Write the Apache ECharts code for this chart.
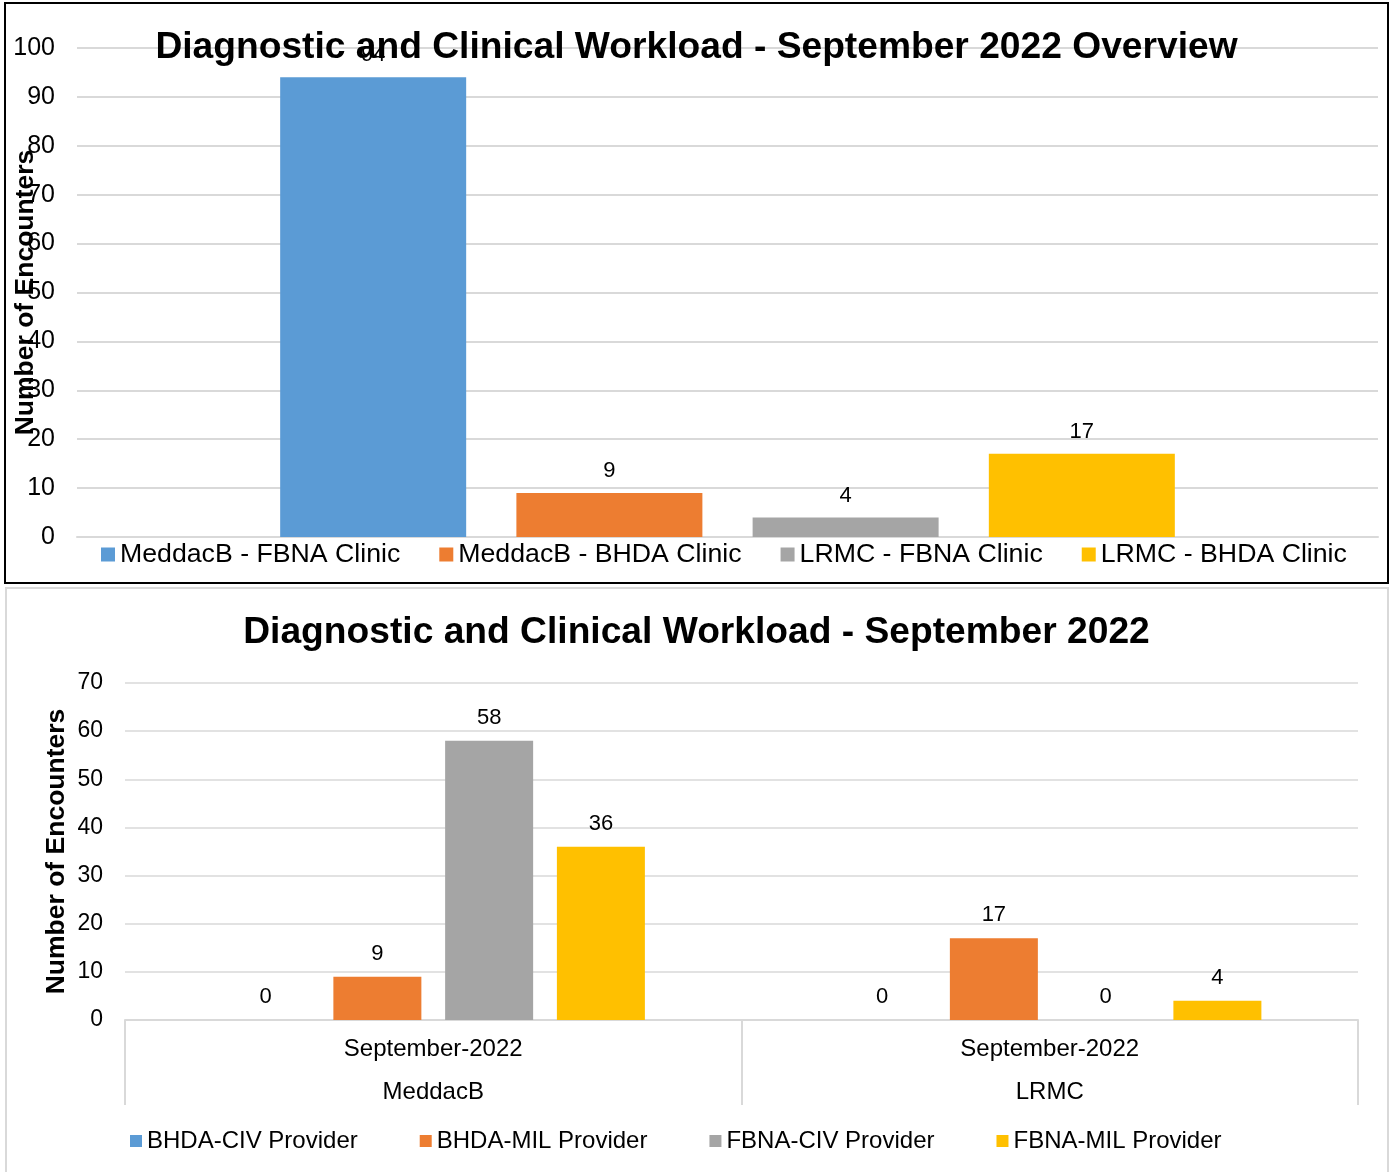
<!DOCTYPE html>
<html>
<head>
<meta charset="utf-8">
<script src="https://cdn.jsdelivr.net/npm/echarts@6/dist/echarts.min.js"></script>
<style>
html,body{margin:0;padding:0;background:#fff;}
#c{width:1393px;height:1172px;}
</style>
</head>
<body>
<div id="c"></div>
<script>
// ---- Data ----
var topTitle = 'Diagnostic and Clinical Workload - September 2022 Overview';
var topSeriesNames = ['MeddacB - FBNA Clinic', 'MeddacB - BHDA Clinic', 'LRMC - FBNA Clinic', 'LRMC - BHDA Clinic'];
var topValues = [94, 9, 4, 17];
var topCategory = ['September 2022'];

var bottomTitle = 'Diagnostic and Clinical Workload - September 2022';
var bottomSites = ['MeddacB', 'LRMC'];
var bottomMonths = ['September-2022', 'September-2022'];
var bottomSeriesNames = ['BHDA-CIV Provider', 'BHDA-MIL Provider', 'FBNA-CIV Provider', 'FBNA-MIL Provider'];
var bhdaCiv = [0, 0];
var bhdaMil = [9, 17];
var fbnaCiv = [58, 0];
var fbnaMil = [36, 4];

var yTitle = 'Number of Encounters';
var colors = ['#5B9BD5', '#ED7D31', '#A5A5A5', '#FFC000'];
var FONT = "'Liberation Sans', Arial, sans-serif";

var chart = echarts.init(document.getElementById('c'), null, {renderer: 'canvas'});

var series = [];
topSeriesNames.forEach(function (name, i) {
  series.push({
    name: name, type: 'bar', xAxisIndex: 0, yAxisIndex: 0,
    data: [topValues[i]],
    barWidth: 186, barGap: '27%',
    itemStyle: {color: colors[i]},
    label: {show: true, position: 'top', distance: 11, color: '#000', fontSize: 22, fontFamily: FONT},
    z: 3
  });
});
var bottomData = [bhdaCiv, bhdaMil, fbnaCiv, fbnaMil];
bottomSeriesNames.forEach(function (name, i) {
  series.push({
    name: name, type: 'bar', xAxisIndex: 1, yAxisIndex: 1,
    data: bottomData[i],
    barWidth: 88, barGap: '27%',
    itemStyle: {color: colors[i]},
    label: {show: true, position: 'top', distance: 12, color: '#000', fontSize: 22, fontFamily: FONT}
  });
});

var option = {
  animation: false,
  backgroundColor: '#fff',
  textStyle: {fontFamily: FONT},
  graphic: [
    {type: 'rect', shape: {x: 5, y: 3, width: 1383, height: 580}, style: {fill: 'none', stroke: '#000', lineWidth: 2}, z: 100},
    {type: 'rect', shape: {x: 6, y: 588, width: 1382, height: 620}, style: {fill: 'none', stroke: '#d9d9d9', lineWidth: 2}, z: 100}
  ],
  title: [
    {text: topTitle, left: 'center', top: 24, textStyle: {fontSize: 37.2, fontWeight: 'bold', color: '#000', fontFamily: FONT}},
    {text: bottomTitle, left: 'center', top: 609, textStyle: {fontSize: 37.2, fontWeight: 'bold', color: '#000', fontFamily: FONT}}
  ],
  legend: [
    {data: topSeriesNames, left: 101, top: 541, padding: 0, icon: 'rect', itemWidth: 14, itemHeight: 14, itemGap: 39,
     textStyle: {fontSize: 26.7, color: '#000', fontFamily: FONT}},
    {data: bottomSeriesNames, left: 130, top: 1129, padding: 0, icon: 'rect', itemWidth: 12, itemHeight: 12, itemGap: 62,
     textStyle: {fontSize: 24, color: '#000', fontFamily: FONT}}
  ],
  grid: [
    {left: 77, right: 15, top: 48, height: 489, containLabel: false, outerBoundsMode: 'none'},
    {left: 125, right: 35, top: 683, height: 337, containLabel: false, outerBoundsMode: 'none'}
  ],
  xAxis: [
    {type: 'category', gridIndex: 0, data: topCategory,
     axisLine: {show: true, lineStyle: {color: '#d9d9d9', width: 2}},
     axisTick: {show: false}, axisLabel: {show: false}},
    {type: 'category', gridIndex: 1, data: bottomSites,
     axisLine: {show: true, lineStyle: {color: '#d9d9d9', width: 2}},
     axisTick: {show: true, length: 85, interval: 0, lineStyle: {color: '#d9d9d9', width: 2}},
     axisLabel: {show: true, interval: 0, margin: 8, fontSize: 24, color: '#000', fontFamily: FONT, lineHeight: 43,
       formatter: function (v, idx) { return bottomMonths[idx] + '\n' + v; }}}
  ],
  yAxis: [
    {type: 'value', gridIndex: 0, min: 0, max: 100, interval: 10,
     name: yTitle, nameLocation: 'middle', nameGap: 38, nameRotate: 90, nameMoveOverlap: false,
     nameTextStyle: {fontSize: 26.5, fontWeight: 'bold', color: '#000', fontFamily: FONT},
     axisLine: {show: false}, axisTick: {show: false},
     axisLabel: {fontSize: 25, color: '#000', margin: 22, fontFamily: FONT},
     splitLine: {lineStyle: {color: '#d9d9d9', width: 2}}},
    {type: 'value', gridIndex: 1, min: 0, max: 70, interval: 10,
     name: yTitle, nameLocation: 'middle', nameGap: 55, nameRotate: 90, nameMoveOverlap: false,
     nameTextStyle: {fontSize: 26.5, fontWeight: 'bold', color: '#000', fontFamily: FONT},
     axisLine: {show: false}, axisTick: {show: false},
     axisLabel: {fontSize: 23, color: '#000', margin: 22, fontFamily: FONT},
     splitLine: {lineStyle: {color: '#d9d9d9', width: 1.5}}}
  ],
  series: series
};
chart.setOption(option);
</script>
</body>
</html>
